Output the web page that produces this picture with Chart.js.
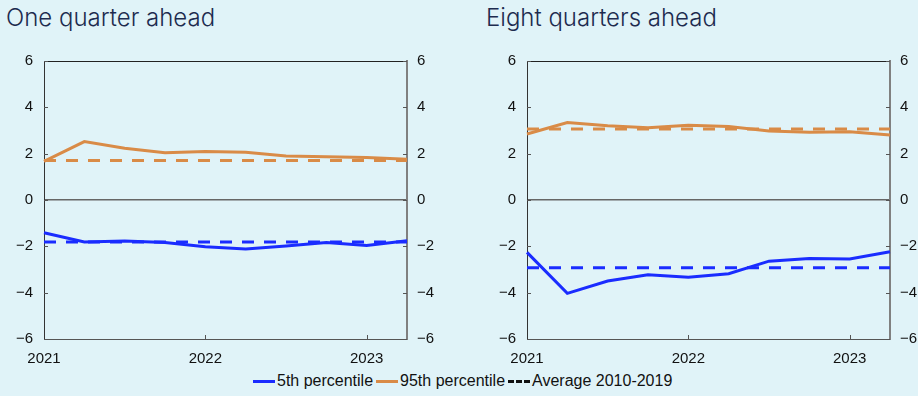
<!DOCTYPE html>
<html>
<head>
<meta charset="utf-8">
<script src="https://cdn.jsdelivr.net/npm/chart.js@4/dist/chart.umd.min.js"></script>
<style>
  body {
    margin: 0;
    width: 918px;
    height: 396px;
    background: #e0f3f8;
    overflow: hidden;
    position: relative;
    font-family: "Liberation Sans", Arial, sans-serif;
  }
  .title {
    position: absolute;
    top: 3px;
    font-family: Inter, sans-serif;
    font-weight: 300;
    font-size: 24px;
    color: #1d2b4f;
    white-space: nowrap;
  }
  .panel { position: absolute; top: 0; }
  #legend {
    position: absolute;
    top: 372px;
    left: 253px;
    font-size: 16px;
    color: #111;
    display: flex;
    align-items: center;
    white-space: nowrap;
  }
  .key { display: inline-block; width: 22px; height: 0; border-top: 3px solid; margin-right: 2px; }
  .key.dash { border-top: 3px dashed #111; }
</style>
</head>
<body>
<div class="title" style="left:6px">One quarter ahead</div>
<div class="title" style="left:486px">Eight quarters ahead</div>
<canvas id="left" class="panel" width="460" height="372" style="left:0"></canvas>
<canvas id="right" class="panel" width="460" height="372" style="left:483px"></canvas>
<div id="legend">
  <span class="key" style="border-color:#1a2cff"></span><span>5th percentile</span>
  <span class="key" style="border-color:#d98b47;margin-left:3px"></span><span>95th percentile</span>
  <span class="key dash" style="margin-left:3px"></span><span>Average 2010-2019</span>
</div>
<script>
// quarters 2021Q1 .. 2023Q2, only the first quarter of each year is labelled
const quarters = ['2021', '', '', '', '2022', '', '', '', '2023', ''];
const yTicks = [-6, -4, -2, 0, 2, 4, 6];

const oneQ5th  = [-1.41, -1.81, -1.77, -1.83, -2.02, -2.12, -1.99, -1.83, -1.96, -1.76];
const oneQ95th = [1.67, 2.52, 2.23, 2.04, 2.09, 2.06, 1.90, 1.87, 1.83, 1.76];
const oneQAvg5th  = [-1.81, -1.81, -1.81, -1.81, -1.81, -1.81, -1.81, -1.81, -1.81, -1.81];
const oneQAvg95th = [1.70, 1.70, 1.70, 1.70, 1.70, 1.70, 1.70, 1.70, 1.70, 1.70];

const eightQ5th  = [-2.26, -4.03, -3.50, -3.23, -3.33, -3.18, -2.64, -2.52, -2.55, -2.23];
const eightQ95th = [2.85, 3.34, 3.21, 3.12, 3.23, 3.17, 2.98, 2.92, 2.95, 2.81];
const eightQAvg5th  = [-2.92, -2.92, -2.92, -2.92, -2.92, -2.92, -2.92, -2.92, -2.92, -2.92];
const eightQAvg95th = [3.07, 3.07, 3.07, 3.07, 3.07, 3.07, 3.07, 3.07, 3.07, 3.07];

const BLUE = '#1a2cff';
const ORANGE = '#d98b47';

// top frame line plus short inward tick marks on all axes
const frame = {
  id: 'frame',
  afterDraw(chart) {
    const { ctx, chartArea: a, scales } = chart;
    ctx.save();
    ctx.strokeStyle = '#222';
    ctx.lineWidth = 1;
    ctx.beginPath();
    ctx.moveTo(a.left, a.top + 0.5);
    ctx.lineTo(a.right, a.top + 0.5);
    ctx.stroke();

    ctx.strokeStyle = '#555';
    ctx.beginPath();
    yTicks.forEach(v => {
      const y = Math.round(scales.y.getPixelForValue(v)) + 0.5;
      ctx.moveTo(a.left, y);
      ctx.lineTo(a.left + 4, y);
      ctx.moveTo(a.right, y);
      ctx.lineTo(a.right - 4, y);
    });
    quarters.forEach((q, i) => {
      if (!q || i === 0) return;
      const x = Math.round(scales.x.getPixelForValue(i)) + 0.5;
      ctx.moveTo(x, a.bottom);
      ctx.lineTo(x, a.bottom - 4);
    });
    ctx.stroke();
    ctx.restore();
  }
};

const fmt = v => (v < 0 ? '\u2212' + Math.abs(v) : String(v));

function makeChart(id, p5, p95, avg5, avg95) {
  const tickFont = { family: '"Liberation Sans", Arial, sans-serif', size: 15 };
  return new Chart(document.getElementById(id), {
    type: 'line',
    data: {
      labels: quarters,
      datasets: [
        { data: avg5, borderColor: BLUE, borderDash: [12, 10], order: 1 },
        { data: avg95, borderColor: ORANGE, borderDash: [12, 10], order: 3 },
        { data: p5, borderColor: BLUE, order: 2 },
        { data: p95, borderColor: ORANGE, order: 2 }
      ]
    },
    options: {
      responsive: false,
      animation: false,
      layout: { padding: { top: 61, left: 0, right: 0, bottom: 0 } },
      elements: {
        line: { borderWidth: 3, tension: 0, borderCapStyle: 'butt' },
        point: { radius: 0 }
      },
      plugins: { legend: { display: false }, tooltip: { enabled: false } },
      scales: {
        x: {
          type: 'category',
          offset: false,
          afterFit: s => { s.height = 33; },
          grid: { drawOnChartArea: false, drawTicks: false },
          border: { color: '#555', width: 1 },
          ticks: { autoSkip: false, maxRotation: 0, padding: 11, color: '#111', font: tickFont }
        },
        y: {
          position: 'left',
          min: -6, max: 6,
          afterFit: s => { s.width = 44; },
          afterBuildTicks: s => { s.ticks = yTicks.map(v => ({ value: v })); },
          grid: {
            drawTicks: false,
            color: c => (c.tick && c.tick.value === 0 ? '#666' : 'rgba(0,0,0,0)'),
            lineWidth: 1.5
          },
          border: { color: '#333', width: 1 },
          ticks: { padding: 11, color: '#111', font: tickFont, callback: fmt }
        },
        y2: {
          position: 'right',
          min: -6, max: 6,
          afterFit: s => { s.width = 53; },
          afterBuildTicks: s => { s.ticks = yTicks.map(v => ({ value: v })); },
          grid: { drawOnChartArea: false, drawTicks: false },
          border: { color: '#808080', width: 2 },
          ticks: { padding: 10, color: '#111', font: tickFont, callback: fmt }
        }
      }
    },
    plugins: [frame]
  });
}

makeChart('left', oneQ5th, oneQ95th, oneQAvg5th, oneQAvg95th);
makeChart('right', eightQ5th, eightQ95th, eightQAvg5th, eightQAvg95th);
</script>
</body>
</html>
